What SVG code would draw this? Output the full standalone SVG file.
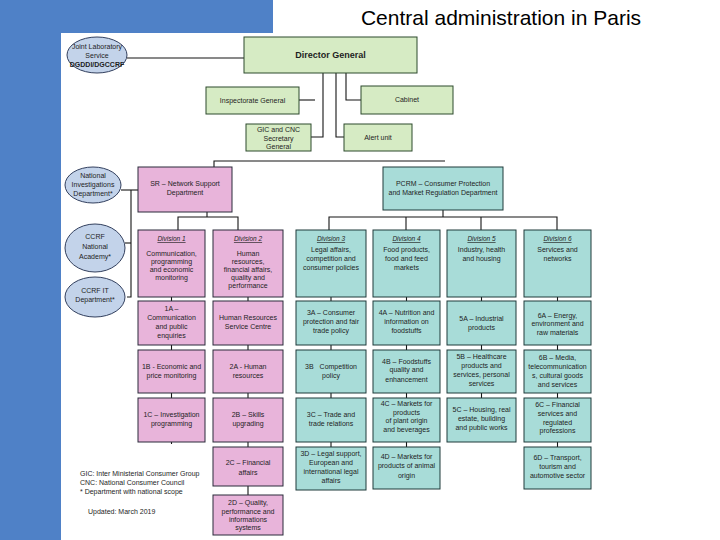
<svg xmlns="http://www.w3.org/2000/svg" width="720" height="540" viewBox="0 0 720 540">
<style>
.bg{fill:#4f81c7}
.g{fill:#d6ebc4;stroke:#2c4a2c;stroke-width:1}
.p{fill:#e8b4da;stroke:#2a2a3a;stroke-width:1}
.t{fill:#a8dcd8;stroke:#1f3a3a;stroke-width:1}
.o{fill:#c3d3ea;stroke:#33405e;stroke-width:1}
.ln{fill:none;stroke:#151515;stroke-width:1.1}
text{font-family:"Liberation Sans",Arial,sans-serif;fill:#1e1e1e;font-size:7px;text-anchor:middle}
.dv{font-style:italic;text-decoration:underline;font-size:6.5px}
.lg{text-anchor:start;font-size:7px}
.ti{font-size:21px;fill:#000}
.dg{font-size:9px;font-weight:bold}
</style>
<rect class="bg" x="0" y="0" width="273" height="33"/>
<rect class="bg" x="0" y="0" width="61" height="540"/>
<text class="ti" x="501" y="25">Central administration in Paris</text>

<g id="connectors">
<path class="ln" d="M127,58 H244"/>
<path class="ln" d="M323,73 V137 H311"/>
<path class="ln" d="M299,100 H315"/>
<path class="ln" d="M336,73 V137 H344"/>
<path class="ln" d="M346,73 V100 H361"/>
<path class="ln" d="M214,167 V161 H445"/>
<path class="ln" d="M121,190 H138"/>
<path class="ln" d="M131,190 V297 H127"/>
<path class="ln" d="M125,243 H131"/>
<path class="ln" d="M207,212 V217"/>
<path class="ln" d="M178,230 V217 H238 V230"/>
<path class="ln" d="M443,210 V217"/>
<path class="ln" d="M329,230 V217 H557 V230"/>
<path class="ln" d="M406,217 V230"/>
<path class="ln" d="M481,217 V230"/>
<path class="ln" d="M171.5,297 V444"/>
<path class="ln" d="M248,297 V495"/>
<path class="ln" d="M331,297 V447"/>
<path class="ln" d="M406.5,297 V447"/>
<path class="ln" d="M481.5,297 V398"/>
<path class="ln" d="M557.5,297 V447"/>
</g>

<g id="joint-lab"><ellipse class="o" cx="97" cy="55" rx="30" ry="18"/><text x="97" y="49" font-size="6.5">Joint Laboratory</text><text x="97" y="58" font-size="6.5">Service</text><text x="97" y="67" font-size="5.8" font-weight="bold">DGDDI/DGCCRF</text></g>
<g id="director-general"><rect class="g" x="244" y="37" width="173" height="36"/><text class="dg" x="330.5" y="58">Director General</text></g>
<g id="inspectorate"><rect class="g" x="206" y="87" width="93" height="27"/><text x="252.5" y="103">Inspectorate General</text></g>
<g id="cabinet"><rect class="g" x="361" y="86" width="92" height="28"/><text x="407" y="102">Cabinet</text></g>
<g id="gic-cnc"><rect class="g" x="246" y="124" width="65" height="27"/><text x="278.5" y="132">GIC and CNC</text><text x="278.5" y="141">Secretary</text><text x="278.5" y="149" font-size="6">General</text></g>
<g id="alert-unit"><rect class="g" x="344" y="124" width="68" height="27"/><text x="378" y="140">Alert unit</text></g>

<g id="national-investigations"><ellipse class="o" cx="93" cy="185" rx="28" ry="18"/><text x="93" y="178">National</text><text x="93" y="187">Investigations</text><text x="93" y="196">Department*</text></g>
<g id="ccrf-academy"><ellipse class="o" cx="95" cy="248" rx="30" ry="24"/><text x="95" y="239">CCRF</text><text x="95" y="249">National</text><text x="95" y="259">Academy*</text></g>
<g id="ccrf-it"><ellipse class="o" cx="95" cy="297" rx="30" ry="20"/><text x="95" y="293">CCRF IT</text><text x="95" y="302">Department*</text></g>

<g id="sr"><rect class="p" x="138" y="167" width="94" height="45"/><text x="185" y="186">SR – Network Support</text><text x="185" y="195">Department</text></g>
<g id="pcrm"><rect class="t" x="383" y="167" width="120" height="43"/><text x="443" y="186">PCRM – Consumer Protection</text><text x="443" y="195">and Market Regulation Department</text></g>

<g id="division-1"><rect class="p" x="138" y="230" width="67" height="67"/><text class="dv" x="171.5" y="241">Division 1</text><text x="171.5" y="256">Communication,</text><text x="171.5" y="264">programming</text><text x="171.5" y="272">and economic</text><text x="171.5" y="280">monitoring</text></g>
<g id="division-2"><rect class="p" x="213" y="230" width="70" height="67"/><text class="dv" x="248" y="241">Division 2</text><text x="248" y="256">Human</text><text x="248" y="264">resources,</text><text x="248" y="272">financial affairs,</text><text x="248" y="280">quality and</text><text x="248" y="288">performance</text></g>
<g id="division-3"><rect class="t" x="296" y="230" width="70" height="67"/><text class="dv" x="331" y="241">Division 3</text><text x="331" y="252">Legal affairs,</text><text x="331" y="261">competition and</text><text x="331" y="270">consumer policies</text></g>
<g id="division-4"><rect class="t" x="373" y="230" width="67" height="67"/><text class="dv" x="406.5" y="241">Division 4</text><text x="406.5" y="252">Food products,</text><text x="406.5" y="261">food and feed</text><text x="406.5" y="270">markets</text></g>
<g id="division-5"><rect class="t" x="447" y="230" width="69" height="67"/><text class="dv" x="481.5" y="241">Division 5</text><text x="481.5" y="252">Industry, health</text><text x="481.5" y="261">and housing</text></g>
<g id="division-6"><rect class="t" x="524" y="230" width="67" height="67"/><text class="dv" x="557.5" y="241">Division 6</text><text x="557.5" y="252">Services and</text><text x="557.5" y="261">networks</text></g>

<g id="u1a"><rect class="p" x="138" y="301" width="67" height="44"/><text x="171.5" y="311">1A –</text><text x="171.5" y="320">Communication</text><text x="171.5" y="329">and public</text><text x="171.5" y="338">enquiries</text></g>
<g id="hrsc"><rect class="p" x="213" y="301" width="70" height="44"/><text x="248" y="320">Human Resources</text><text x="248" y="329">Service Centre</text></g>
<g id="u3a"><rect class="t" x="296" y="301" width="70" height="44"/><text x="331" y="315">3A – Consumer</text><text x="331" y="324">protection and fair</text><text x="331" y="333">trade policy</text></g>
<g id="u4a"><rect class="t" x="373" y="301" width="67" height="44"/><text x="406.5" y="315">4A – Nutrition and</text><text x="406.5" y="324">information on</text><text x="406.5" y="333">foodstuffs</text></g>
<g id="u5a"><rect class="t" x="447" y="301" width="69" height="44"/><text x="481.5" y="321">5A – Industrial</text><text x="481.5" y="330">products</text></g>
<g id="u6a"><rect class="t" x="524" y="301" width="67" height="44"/><text x="557.5" y="318">6A – Energy,</text><text x="557.5" y="326">environment and</text><text x="557.5" y="335">raw materials</text></g>

<g id="u1b"><rect class="p" x="138" y="350" width="67" height="43"/><text x="171.5" y="369">1B - Economic and</text><text x="171.5" y="378">price monitoring</text></g>
<g id="u2a"><rect class="p" x="213" y="350" width="70" height="43"/><text x="248" y="369">2A - Human</text><text x="248" y="378">resources</text></g>
<g id="u3b"><rect class="t" x="296" y="350" width="70" height="43"/><text x="331" y="369">3B <tspan dx="4">Competition</tspan></text><text x="331" y="378">policy</text></g>
<g id="u4b"><rect class="t" x="373" y="350" width="67" height="43"/><text x="406.5" y="364">4B – Foodstuffs</text><text x="406.5" y="372">quality and</text><text x="406.5" y="382">enhancement</text></g>
<g id="u5b"><rect class="t" x="447" y="350" width="69" height="43"/><text x="481.5" y="359">5B – Healthcare</text><text x="481.5" y="368">products and</text><text x="481.5" y="377">services, personal</text><text x="481.5" y="386">services</text></g>
<g id="u6b"><rect class="t" x="524" y="350" width="67" height="43"/><text x="557.5" y="360">6B – Media,</text><text x="557.5" y="369">telecommunication</text><text x="557.5" y="378">s, cultural goods</text><text x="557.5" y="387">and services</text></g>

<g id="u1c"><rect class="p" x="138" y="398" width="67" height="44"/><text x="171.5" y="417">1C – Investigation</text><text x="171.5" y="426">programming</text></g>
<g id="u2b"><rect class="p" x="213" y="398" width="70" height="44"/><text x="248" y="417">2B – Skills</text><text x="248" y="426">upgrading</text></g>
<g id="u3c"><rect class="t" x="296" y="398" width="70" height="44"/><text x="331" y="417">3C – Trade and</text><text x="331" y="426">trade relations</text></g>
<g id="u4c"><rect class="t" x="373" y="398" width="67" height="44"/><text x="406.5" y="406">4C – Markets for</text><text x="406.5" y="415">products</text><text x="406.5" y="423">of plant origin</text><text x="406.5" y="432">and beverages</text></g>
<g id="u5c"><rect class="t" x="447" y="398" width="69" height="44"/><text x="481.5" y="412">5C – Housing, real</text><text x="481.5" y="421">estate,  building</text><text x="481.5" y="430">and public works</text></g>
<g id="u6c"><rect class="t" x="524" y="398" width="67" height="44"/><text x="557.5" y="407">6C – Financial</text><text x="557.5" y="416">services and</text><text x="557.5" y="425">regulated</text><text x="557.5" y="433">professions</text></g>

<g id="u2c"><rect class="p" x="213" y="447" width="70" height="39"/><text x="248" y="465">2C – Financial</text><text x="248" y="475">affairs</text></g>
<g id="u3d"><rect class="t" x="296" y="447" width="70" height="43"/><text x="331" y="456">3D – Legal support,</text><text x="331" y="465">European and</text><text x="331" y="474">international legal</text><text x="331" y="483">affairs</text></g>
<g id="u4d"><rect class="t" x="373" y="447" width="67" height="42"/><text x="406.5" y="459">4D – Markets for</text><text x="406.5" y="468">products of animal</text><text x="406.5" y="478">origin</text></g>
<g id="u6d"><rect class="t" x="524" y="447" width="67" height="42"/><text x="557.5" y="460">6D – Transport,</text><text x="557.5" y="469">tourism and</text><text x="557.5" y="478">automotive sector</text></g>
<g id="u2d"><rect class="p" x="213" y="495" width="70" height="40"/><text x="248" y="505">2D – Quality,</text><text x="248" y="514">performance and</text><text x="248" y="522">informations</text><text x="248" y="530">systems</text></g>

<g id="legend">
<text class="lg" x="80" y="476">GIC: Inter Ministerial Consumer Group</text>
<text class="lg" x="80" y="485">CNC: National Consumer Council</text>
<text class="lg" x="80" y="494">* Department with national scope</text>
<text class="lg" x="88" y="514">Updated: March 2019</text>
</g>
</svg>
